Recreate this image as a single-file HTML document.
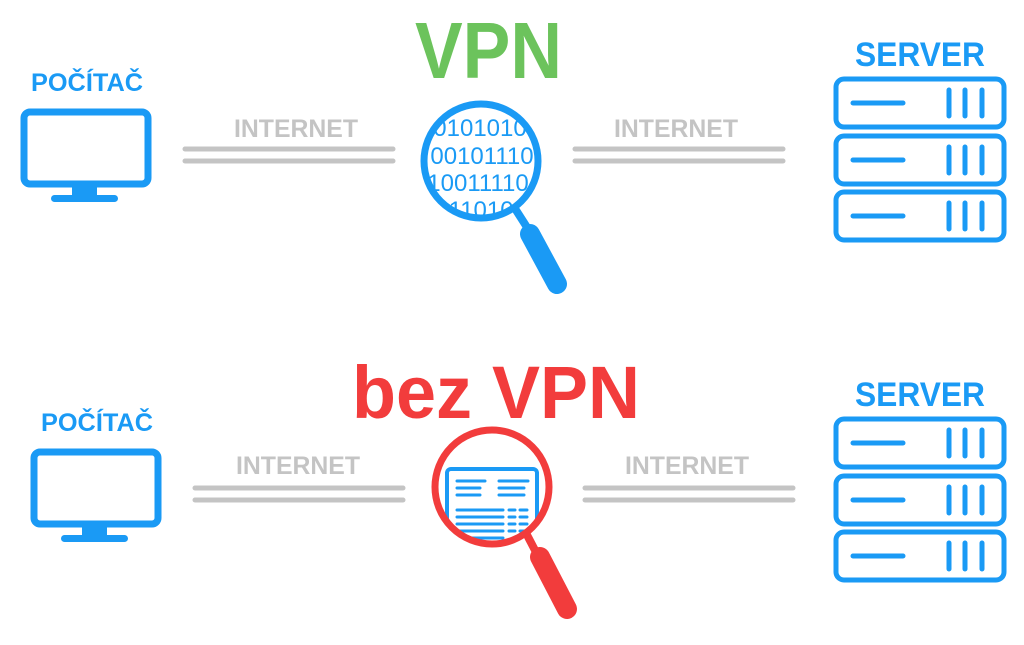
<!DOCTYPE html>
<html><head><meta charset="utf-8"><style>html,body{margin:0;padding:0;background:#fff}svg{display:block}</style></head>
<body>
<svg width="1024" height="645" viewBox="0 0 1024 645" xmlns="http://www.w3.org/2000/svg" font-family="Liberation Sans, sans-serif">
<defs>
<clipPath id="c1"><circle cx="481" cy="161" r="54"/></clipPath>
<clipPath id="c2"><circle cx="492" cy="487" r="55"/></clipPath>
<g id="srv" fill="none" stroke="#1a9af5" stroke-width="5" stroke-linecap="round">
<rect x="836" y="0" width="168" height="48" rx="8"/>
<line x1="853" y1="24" x2="903" y2="24"/>
<line x1="949" y1="11" x2="949" y2="37"/><line x1="965" y1="11" x2="965" y2="37"/><line x1="982" y1="11" x2="982" y2="37"/>
</g>
</defs>
<!-- TOP -->
<text x="31" y="91" font-size="25" font-weight="bold" fill="#1a9af5" textLength="112" lengthAdjust="spacingAndGlyphs">POČÍTAČ</text>
<rect x="24" y="112" width="124" height="72" rx="6" fill="none" stroke="#1a9af5" stroke-width="7"/>
<rect x="72" y="186" width="25" height="11" fill="#1a9af5"/>
<rect x="51" y="195" width="67" height="7" rx="3.5" fill="#1a9af5"/>
<text x="234" y="137" font-size="25" font-weight="bold" fill="#c4c4c4" textLength="124" lengthAdjust="spacingAndGlyphs">INTERNET</text>
<g stroke="#c4c4c4" stroke-width="5" stroke-linecap="round"><line x1="185" y1="149" x2="393" y2="149"/><line x1="185" y1="161" x2="393" y2="161"/>
<line x1="575" y1="149" x2="783" y2="149"/><line x1="575" y1="161" x2="783" y2="161"/></g>
<text x="614" y="137" font-size="25" font-weight="bold" fill="#c4c4c4" textLength="124" lengthAdjust="spacingAndGlyphs">INTERNET</text>
<text x="415" y="78" font-size="80" font-weight="bold" fill="#6cc35c" textLength="147" lengthAdjust="spacingAndGlyphs">VPN</text>
<g clip-path="url(#c1)" font-size="24" fill="#1a9af5" text-anchor="middle">
<text x="480" y="136">0101010</text><text x="482" y="164">00101110</text><text x="478" y="191">10011110</text><text x="482" y="218">1110101</text></g>
<circle cx="481" cy="161" r="57" fill="none" stroke="#1a9af5" stroke-width="7"/>
<line x1="514" y1="207" x2="530" y2="232" stroke="#1a9af5" stroke-width="8"/>
<line x1="530" y1="234" x2="557" y2="284" stroke="#1a9af5" stroke-width="20" stroke-linecap="round"/>
<text x="855" y="66" font-size="34" font-weight="bold" fill="#1a9af5" textLength="130" lengthAdjust="spacingAndGlyphs">SERVER</text>
<use href="#srv" y="79"/><use href="#srv" y="136"/><use href="#srv" y="192"/>
<!-- BOTTOM -->
<text x="41" y="431" font-size="25" font-weight="bold" fill="#1a9af5" textLength="112" lengthAdjust="spacingAndGlyphs">POČÍTAČ</text>
<rect x="34" y="452" width="124" height="72" rx="6" fill="none" stroke="#1a9af5" stroke-width="7"/>
<rect x="82" y="526" width="25" height="11" fill="#1a9af5"/>
<rect x="61" y="535" width="67" height="7" rx="3.5" fill="#1a9af5"/>
<text x="236" y="474" font-size="25" font-weight="bold" fill="#c4c4c4" textLength="124" lengthAdjust="spacingAndGlyphs">INTERNET</text>
<g stroke="#c4c4c4" stroke-width="5" stroke-linecap="round"><line x1="195" y1="488" x2="403" y2="488"/><line x1="195" y1="500" x2="403" y2="500"/>
<line x1="585" y1="488" x2="793" y2="488"/><line x1="585" y1="500" x2="793" y2="500"/></g>
<text x="625" y="474" font-size="25" font-weight="bold" fill="#c4c4c4" textLength="124" lengthAdjust="spacingAndGlyphs">INTERNET</text>
<text x="352" y="418" font-size="74" font-weight="bold" fill="#f23c3c" textLength="288" lengthAdjust="spacingAndGlyphs">bez VPN</text>
<g clip-path="url(#c2)" stroke="#1a9af5" stroke-linecap="round">
<rect x="447" y="469" width="90" height="80" rx="4" fill="none" stroke-width="4"/>
<g stroke-width="3"><line x1="457" y1="481" x2="485" y2="481"/><line x1="457" y1="488" x2="480" y2="488"/><line x1="457" y1="495" x2="480" y2="495"/>
<line x1="499" y1="481" x2="528" y2="481"/><line x1="499" y1="488" x2="524" y2="488"/><line x1="499" y1="495" x2="524" y2="495"/>
<line x1="457" y1="510" x2="503" y2="510"/><line x1="457" y1="517" x2="503" y2="517"/><line x1="457" y1="524" x2="503" y2="524"/><line x1="457" y1="531" x2="503" y2="531"/><line x1="457" y1="538" x2="503" y2="538"/>
<line x1="509" y1="510" x2="515" y2="510"/><line x1="509" y1="517" x2="515" y2="517"/><line x1="509" y1="524" x2="515" y2="524"/><line x1="509" y1="531" x2="515" y2="531"/>
<line x1="520" y1="510" x2="527" y2="510"/><line x1="520" y1="517" x2="527" y2="517"/><line x1="520" y1="524" x2="527" y2="524"/><line x1="520" y1="531" x2="527" y2="531"/></g></g>
<circle cx="492" cy="487" r="57" fill="none" stroke="#f23c3c" stroke-width="7"/>
<line x1="526" y1="533" x2="538" y2="556" stroke="#f23c3c" stroke-width="8"/>
<line x1="540" y1="557" x2="567" y2="609" stroke="#f23c3c" stroke-width="20" stroke-linecap="round"/>
<text x="855" y="406" font-size="34" font-weight="bold" fill="#1a9af5" textLength="130" lengthAdjust="spacingAndGlyphs">SERVER</text>
<use href="#srv" y="419"/><use href="#srv" y="476"/><use href="#srv" y="532"/>
</svg>
</body></html>
